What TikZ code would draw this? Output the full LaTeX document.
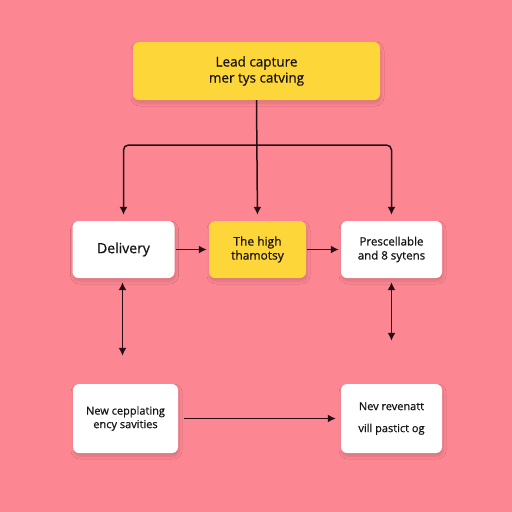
\documentclass[tikz,border=0pt]{standalone}
\usepackage{fontspec}
\setmainfont{Open Sans}[FakeBold=0.7]
\usetikzlibrary{arrows.meta,shadows.blur}
\definecolor{bg}{RGB}{252,134,146}
\definecolor{ylw}{RGB}{253,214,58}
\definecolor{ln}{RGB}{35,15,20}
\definecolor{txt}{RGB}{25,20,20}
\begin{document}
\begin{tikzpicture}[x=1pt,y=-1pt,
  box/.style={rounded corners=6pt, fill=white, blur shadow={shadow blur steps=10, shadow xshift=1pt, shadow yshift=-3pt, shadow opacity=14, shadow blur radius=3pt}, inner sep=0pt, align=center, text=txt},
  ybox/.style={box, fill=ylw},
  arr/.style={draw=ln, line width=1.5pt, -{Latex[length=8pt,width=8pt]}},
  darr/.style={draw=ln, line width=1.5pt, {Latex[length=8pt,width=8pt]}-{Latex[length=8pt,width=8pt]}}]
\fill[bg] (0,0) rectangle (512,512);
\useasboundingbox (0,0) rectangle (512,512);

\node[ybox, minimum width=247pt, minimum height=58pt, font=\fontsize{13.5}{16}\selectfont] (top) at (256.5,71) {Lead capture\\mer tys catving};
\node[box, minimum width=102pt, minimum height=57pt, font=\fontsize{14}{16}\selectfont] (del) at (123.5,249.5) {Delivery};
\node[ybox, minimum width=97pt, minimum height=57pt, font=\fontsize{12}{14}\selectfont] (mid) at (257.5,249.5) {The high\\thamotsy};
\node[box, minimum width=101pt, minimum height=57pt, font=\fontsize{11.5}{14}\selectfont] (rgt) at (391.5,249.5) {Prescellable\\and 8 sytens};
\node[box, minimum width=105pt, minimum height=69pt, font=\fontsize{11}{13.5}\selectfont] (bl) at (125.5,418.5) {New cepplating\\ency savities};
\node[box, minimum width=101pt, minimum height=69pt, font=\fontsize{11}{22}\selectfont] (br) at (391.5,418.5) {Nev revenatt\\vill pastict og};

\coordinate (j) at (257,145);
\draw[arr, shorten >=6pt] (top.south) -- (mid.north);
\draw[arr, rounded corners=5pt, shorten >=6pt] (j) -| (del.north);
\draw[arr, rounded corners=5pt, shorten >=6pt] (j) -| (rgt.north);
\draw[arr, shorten <=1pt, shorten >=2pt] (del.east) -- (mid.west);
\draw[arr, shorten <=1pt, shorten >=2pt] (mid.east) -- (rgt.west);
\draw[darr, shorten <=4pt, shorten >=28pt] ([xshift=-1pt]del.south) -- ([xshift=-1pt]del.south |- bl.north);
\draw[darr, shorten <=4pt, shorten >=43pt] (rgt.south) -- (rgt.south |- br.north);
\draw[arr, shorten <=6pt, shorten >=5pt] (bl.east) -- (br.west);
\end{tikzpicture}
\end{document}
